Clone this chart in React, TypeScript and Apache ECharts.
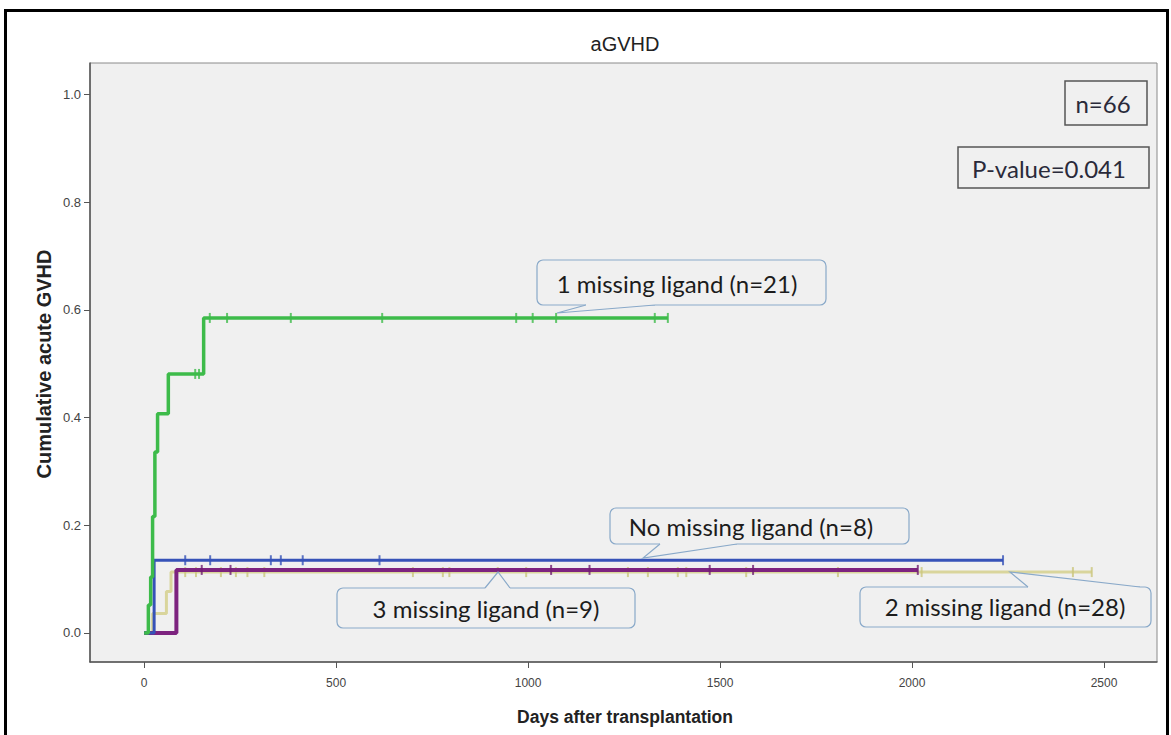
import React, { useEffect, useRef } from "react";
import * as echarts from "echarts";

const xTicks = [0, 500, 1000, 1500, 2000, 2500];
const yTicks = [0, 0.2, 0.4, 0.6, 0.8, 1.0];

const noMissingDays = [0, 26, 2237];
const noMissingValues = [0, 0.135, 0.135];
const noMissingCensored = [107, 172, 330, 356, 413, 613, 2237];

const oneMissingDays = [0, 11, 17, 22, 28, 35, 63, 155, 1364];
const oneMissingValues = [0, 0.052, 0.104, 0.216, 0.336, 0.407, 0.481, 0.585, 0.585];
const oneMissingCensored = [133, 143, 171, 216, 382, 620, 969, 1012, 1073, 1330, 1364];

const twoMissingDays = [0, 22, 58, 70, 2468];
const twoMissingValues = [0, 0.036, 0.077, 0.113, 0.113];
const twoMissingCensored = [107, 135, 200, 239, 269, 313, 700, 778, 795, 921, 995, 1260, 1312, 1390, 1412, 1568, 1807, 2025, 2419, 2468];

const threeMissingDays = [0, 84, 2015];
const threeMissingValues = [0, 0.117, 0.117];
const threeMissingCensored = [150, 225, 1060, 1160, 1473, 1586, 2015];

function valueAt(days: number[], values: number[], d: number) {
  let v = values[0];
  for (let i = 0; i < days.length; i++) if (days[i] <= d) v = values[i];
  return v;
}

function stepSeries(name: string, days: number[], values: number[], color: string, width: number, z: number) {
  return {
    type: "line",
    name,
    step: "end",
    data: days.map((d, i) => [d, values[i]]),
    showSymbol: false,
    symbol: "none",
    lineStyle: { color, width },
    itemStyle: { color },
    z,
    silent: true,
  };
}

function censorSeries(name: string, days: number[], values: number[], censored: number[], color: string, z: number) {
  return {
    type: "scatter",
    name: name + " censored",
    data: censored.map((d) => [d, valueAt(days, values, d)]),
    symbol: "rect",
    symbolSize: [2, 10],
    itemStyle: { color },
    z,
    silent: true,
  };
}

const LABEL_FONT = "Lato, 'Open Sans', sans-serif";
const SANS = "'Liberation Sans', Arial, sans-serif";

function callout(
  box: { x: number; y: number; w: number; h: number },
  edgeY: number,
  base: [number, number],
  tip: [number, number],
  text: string,
  tx: number,
  ty: number
) {
  const inward = edgeY > tip[1] ? 2 : -2;
  const stroke = "#89a9c9";
  return [
    {
      type: "rect",
      z: 100,
      shape: { x: box.x, y: box.y, width: box.w, height: box.h, r: 6 },
      style: { fill: "#f0f0f0", stroke, lineWidth: 1.2 },
    },
    {
      type: "polygon",
      z: 101,
      shape: {
        points: [
          [base[0], edgeY + inward],
          [base[0], edgeY],
          tip,
          [base[1], edgeY],
          [base[1], edgeY + inward],
        ],
      },
      style: { fill: "#f0f0f0" },
    },
    {
      type: "polyline",
      z: 102,
      shape: { points: [[base[0], edgeY], tip, [base[1], edgeY]] },
      style: { stroke, lineWidth: 1.2, fill: null },
    },
    {
      type: "text",
      z: 103,
      x: tx,
      y: ty,
      style: {
        text,
        fontFamily: LABEL_FONT,
        fontSize: 24,
        fill: "#1c1c1c",
        textAlign: "center",
        textVerticalAlign: "middle",
      },
    },
  ];
}

export default function App() {
  const ref = useRef<HTMLDivElement>(null);
  useEffect(() => {
    const chart = echarts.init(ref.current!, null, { renderer: "svg" });
    const option: any = {
      animation: false,
      backgroundColor: "#ffffff",
      grid: {
        left: 90,
        right: 14,
        top: 63,
        bottom: 73,
        show: true,
        backgroundColor: "#f0f0f0",
        borderColor: "#8a8a8a",
        borderWidth: 1,
      },
      xAxis: {
        type: "value",
        min: -141,
        max: 2638,
        splitLine: { show: false },
        axisLine: { show: true, onZero: false, lineStyle: { color: "#555", width: 1.5 } },
        axisTick: { show: true, customValues: xTicks, length: 6, lineStyle: { color: "#555" } },
        axisLabel: {
          customValues: xTicks,
          margin: 15,
          fontSize: 12,
          color: "#444",
          fontFamily: SANS,
          formatter: (v: number) => String(v),
        },
      },
      yAxis: {
        type: "value",
        min: -0.054,
        max: 1.0585,
        splitLine: { show: false },
        axisLine: { show: true, onZero: false, lineStyle: { color: "#555", width: 1.5 } },
        axisTick: { show: true, customValues: yTicks, length: 6, lineStyle: { color: "#555" } },
        axisLabel: {
          customValues: yTicks,
          margin: 9,
          fontSize: 13,
          color: "#444",
          fontFamily: SANS,
          formatter: (v: number) => v.toFixed(1),
        },
      },
      series: [
        stepSeries("2 missing ligand (n=28)", twoMissingDays, twoMissingValues, "#d9d59c", 3, 2),
        censorSeries("2 missing ligand (n=28)", twoMissingDays, twoMissingValues, twoMissingCensored, "#cbc57c", 3),
        stepSeries("3 missing ligand (n=9)", threeMissingDays, threeMissingValues, "#7d237f", 4, 4),
        censorSeries("3 missing ligand (n=9)", threeMissingDays, threeMissingValues, threeMissingCensored, "#6e1d70", 5),
        stepSeries("No missing ligand (n=8)", noMissingDays, noMissingValues, "#3652b8", 3, 6),
        censorSeries("No missing ligand (n=8)", noMissingDays, noMissingValues, noMissingCensored, "#3652b8", 7),
        stepSeries("1 missing ligand (n=21)", oneMissingDays, oneMissingValues, "#3dbb4a", 3.5, 8),
        censorSeries("1 missing ligand (n=21)", oneMissingDays, oneMissingValues, oneMissingCensored, "#3dbb4a", 9),
      ],
      graphic: [
        {
          type: "rect",
          z: 200,
          shape: { x: 5.5, y: 10.5, width: 1162, height: 800 },
          style: { fill: null, stroke: "#000", lineWidth: 3 },
        },
        {
          type: "text",
          z: 100,
          x: 625,
          y: 44,
          style: {
            text: "aGVHD",
            fontFamily: SANS,
            fontSize: 20,
            fill: "#222",
            textAlign: "center",
            textVerticalAlign: "middle",
          },
        },
        {
          type: "text",
          z: 100,
          x: 44,
          y: 364,
          rotation: Math.PI / 2,
          style: {
            text: "Cumulative acute GVHD",
            fontFamily: SANS,
            fontWeight: "bold",
            fontSize: 20,
            fill: "#222",
            textAlign: "center",
            textVerticalAlign: "middle",
          },
        },
        {
          type: "text",
          z: 100,
          x: 625,
          y: 717,
          style: {
            text: "Days after transplantation",
            fontFamily: SANS,
            fontWeight: "bold",
            fontSize: 17.5,
            fill: "#222",
            textAlign: "center",
            textVerticalAlign: "middle",
          },
        },
        {
          type: "rect",
          z: 100,
          shape: { x: 1065, y: 81, width: 82, height: 44 },
          style: { fill: null, stroke: "#555", lineWidth: 1.5 },
        },
        {
          type: "text",
          z: 100,
          x: 1103,
          y: 103,
          style: {
            text: "n=66",
            fontFamily: LABEL_FONT,
            fontSize: 24,
            fill: "#2a2a3a",
            textAlign: "center",
            textVerticalAlign: "middle",
          },
        },
        {
          type: "rect",
          z: 100,
          shape: { x: 958, y: 147, width: 191, height: 41 },
          style: { fill: null, stroke: "#555", lineWidth: 1.5 },
        },
        {
          type: "text",
          z: 100,
          x: 1049,
          y: 168,
          style: {
            text: "P-value=0.041",
            fontFamily: LABEL_FONT,
            fontSize: 24,
            fill: "#2a2a3a",
            textAlign: "center",
            textVerticalAlign: "middle",
          },
        },
        ...callout({ x: 537, y: 260, w: 289, h: 45 }, 305, [586, 655], [557, 313], "1 missing ligand (n=21)", 677, 283),
        ...callout({ x: 610, y: 508, w: 299, h: 36 }, 544, [660, 737], [643, 558], "No missing ligand (n=8)", 751, 526),
        ...callout({ x: 337, y: 588, w: 298, h: 40 }, 588, [485, 510], [498, 572], "3 missing ligand (n=9)", 486, 608),
        ...callout({ x: 860, y: 587, w: 291, h: 40 }, 587, [1028, 1140], [1010, 572], "2 missing ligand (n=28)", 1005, 606),
      ],
    };
    chart.setOption(option);
    return () => chart.dispose();
  }, []);
  return (
    <div
      ref={ref}
      style={{ position: "fixed", left: 0, top: 0, width: 1171, height: 735, background: "#fff" }}
    />
  );
}
